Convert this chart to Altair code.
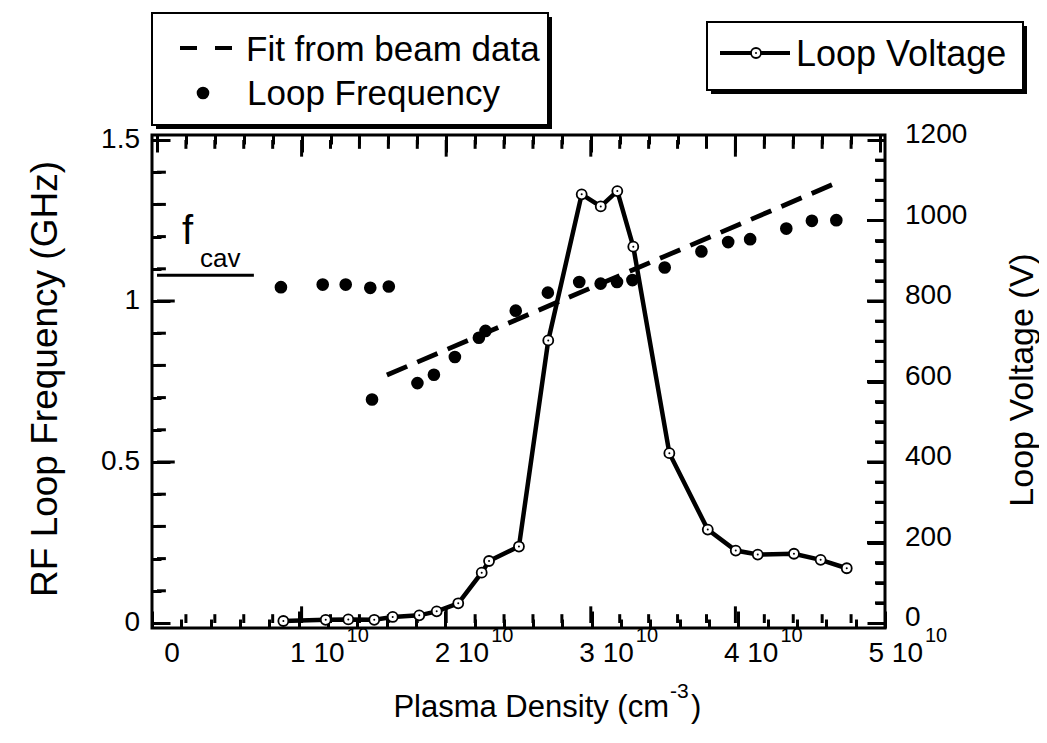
import altair as alt
import pandas as pd

# ---------------- data ----------------
# Loop frequency (GHz, left axis) vs plasma density (cm^-3)
freq_density = [0.857e10, 1.146e10, 1.305e10, 1.475e10, 1.603e10,
                1.487e10, 1.801e10, 1.915e10, 2.060e10, 2.226e10, 2.272e10,
                2.481e10, 2.703e10, 2.920e10, 3.068e10, 3.181e10, 3.288e10,
                3.511e10, 3.765e10, 3.950e10, 4.102e10, 4.352e10, 4.529e10,
                4.698e10]
freq_ghz = [1.043, 1.051, 1.051, 1.041, 1.045,
            0.694, 0.745, 0.771, 0.826, 0.886, 0.907,
            0.970, 1.026, 1.059, 1.054, 1.059, 1.065,
            1.104, 1.154, 1.183, 1.192, 1.225, 1.249,
            1.251]

# Fit from beam data (dashed line)
fit_density = [1.59e10, 4.70e10]
fit_ghz = [0.770, 1.367]

# f_cav marker line
fcav_density = [0.0, 0.67e10]
fcav_ghz = [1.08, 1.08]

# Loop voltage (V, right axis)
volt_density = [0.896e10, 1.185e10, 1.339e10, 1.516e10, 1.642e10, 1.823e10,
                1.942e10, 2.089e10, 2.249e10, 2.299e10, 2.503e10, 2.703e10,
                2.931e10, 3.061e10, 3.174e10, 3.283e10, 3.529e10, 3.791e10,
                3.982e10, 4.132e10, 4.379e10, 4.561e10, 4.739e10]
volt_v = [5, 8, 9, 8, 15, 19,
          29, 49, 125, 154, 190, 702,
          1065, 1035, 1073, 935, 422, 232,
          180, 170, 172, 157, 136]

# axis ticks / labels
x_major = [0.0, 1e10, 2e10, 3e10, 4e10, 5e10]
x_base_labels = ["0", "1 10", "2 10", "3 10", "4 10", "5 10"]
x_sup_labels = ["", "10", "10", "10", "10", "10"]
x_minor = [k * 0.2e10 for k in range(1, 25) if k % 5 != 0]

left_major = [0.0, 0.5, 1.0, 1.5]
left_labels = ["0", "0.5", "1", "1.5"]
left_minor = [0.1, 0.2, 0.3, 0.4, 0.6, 0.7, 0.8, 0.9, 1.1, 1.2, 1.3, 1.4]

right_major = [0, 200, 400, 600, 800, 1000, 1200]
right_labels = ["0", "200", "400", "600", "800", "1000", "1200"]
right_minor = [v for v in range(50, 1200, 50) if v % 200 != 0]

# ---------------- layout constants ----------------
W, H = 733, 493
X_MAX, YL_MAX, YR_MAX = 5e10, 1.5, 1200
FONT = "Liberation Sans"
TICK_FS = 28
MAJ_LEN, MIN_LEN = 17, 9
PX_X = X_MAX / W
PX_L = YL_MAX / H
PX_R = YR_MAX / H


def tick_axis(orient, values, major_test, major_len, minor_len, offset):
    """Axis used only to draw inward ticks (moved onto the opposite frame edge)."""
    return alt.Axis(orient=orient, values=values, offset=offset,
                    labels=False, domain=False, grid=False, title=None,
                    ticks=True, tickColor="black", tickWidth=3,
                    tickSize={"condition": {"test": major_test, "value": major_len},
                              "value": minor_len})


xs = alt.Scale(domain=[0, X_MAX], nice=False, zero=False)
XMAJ_TEST = "abs(datum.value/1e10 - round(datum.value/1e10)) < 1e-6"
XL = alt.X("density:Q", scale=xs,
           axis=tick_axis("bottom", x_major + x_minor, XMAJ_TEST, MAJ_LEN, MIN_LEN, -H))
XR = alt.X("density:Q", scale=xs,
           axis=tick_axis("top", x_major + x_minor, XMAJ_TEST, MAJ_LEN, MIN_LEN, -H))

YL = alt.Y("ghz:Q", scale=alt.Scale(domain=[0, YL_MAX], nice=False, zero=False),
           axis=tick_axis("right", left_major + left_minor,
                          "abs(datum.value*2 - round(datum.value*2)) < 1e-6", 18, MIN_LEN, -W))
YR = alt.Y("volts:Q", scale=alt.Scale(domain=[0, YR_MAX], nice=False, zero=False),
           axis=tick_axis("left", right_major + right_minor,
                          "datum.value % 200 === 0", 18, 10, -W))

one = pd.DataFrame({"k": [0]})


def txt(text, x, y, size, align="left", baseline="alphabetic", angle=0):
    return alt.Chart(one).mark_text(text=text, align=align, baseline=baseline,
                                    fontSize=size, color="black", angle=angle).encode(
        x=alt.value(x), y=alt.value(y))


def lens(n_major, n_minor, major, minor):
    return [major] * n_major + [minor] * n_minor


# ---------------- tick tables (data space) ----------------
xt_vals = x_major[1:-1] + x_minor
xt_len = lens(len(x_major) - 2, len(x_minor), MAJ_LEN * PX_L, MIN_LEN * PX_L)
top_df = pd.DataFrame({"density": xt_vals, "ghz": [YL_MAX] * len(xt_vals),
                       "ghz2": [YL_MAX - v for v in xt_len]})
bot_df = pd.DataFrame({"density": xt_vals, "ghz": [0.0] * len(xt_vals), "ghz2": xt_len})

l_vals = left_major[1:-1] + left_minor
l_len = lens(len(left_major) - 2, len(left_minor), 18 * PX_X, MIN_LEN * PX_X)
lt_df = pd.DataFrame({"ghz": l_vals, "density": [0.0] * len(l_vals), "density2": l_len})

r_vals = right_major[1:-1] + right_minor
r_len = lens(len(right_major) - 2, len(right_minor), 18 * PX_X, 10 * PX_X)
rt_df = pd.DataFrame({"volts": r_vals, "density": [X_MAX - v for v in r_len],
                      "density2": [X_MAX] * len(r_vals)})

BAR = dict(color="black", opacity=1, size=3, stroke=None)

top_bars = alt.Chart(top_df).mark_bar(**BAR).encode(x=XL, y=YL, y2="ghz2")
bot_bars = alt.Chart(bot_df).mark_bar(**BAR).encode(x=XL, y=YL, y2="ghz2")
l_bars = alt.Chart(lt_df).mark_bar(orient="horizontal", **BAR).encode(
    y=YL, x=XL, x2="density2")
r_bars = alt.Chart(rt_df).mark_bar(orient="horizontal", **BAR).encode(
    y=YR, x=XR, x2="density2")

# ---------------- left-scale layers ----------------
freq_df = pd.DataFrame({"density": freq_density, "ghz": freq_ghz})
fit_df = pd.DataFrame({"density": fit_density, "ghz": fit_ghz})
fcav_df = pd.DataFrame({"density": fcav_density, "ghz": fcav_ghz})

fcav_line = alt.Chart(fcav_df).mark_line(color="black", strokeWidth=3).encode(x=XL, y=YL)
fit_line = alt.Chart(fit_df).mark_line(color="black", strokeWidth=4.8,
                                       strokeDash=[22, 11]).encode(x=XL, y=YL)
freq_pts = alt.Chart(freq_df).mark_circle(color="black", opacity=1, size=160).encode(x=XL, y=YL)

# left tick labels and title
ylab_df = pd.DataFrame({"ghz": left_major, "lab": left_labels})
y_left_lab = alt.Chart(ylab_df).mark_text(align="right", baseline="middle", fontSize=TICK_FS,
                                          color="black").encode(
    y=YL, x=alt.value(-12), text="lab:N")
y_left_title = txt("RF Loop Frequency (GHz)", -106, 244, 37, align="center",
                   baseline="middle", angle=270)

# x tick labels
xlab_df = pd.DataFrame({"density": x_major, "base": x_base_labels, "sup": x_sup_labels})
x_zero_lab = alt.Chart(xlab_df.iloc[:1]).mark_text(
    align="center", baseline="alphabetic", fontSize=TICK_FS, color="black", dx=15).encode(
    x=XL, y=alt.value(527), text="base:N")
x_base_lab = alt.Chart(xlab_df.iloc[1:]).mark_text(
    align="right", baseline="alphabetic", fontSize=TICK_FS, color="black", dx=43).encode(
    x=XL, y=alt.value(527), text="base:N")
x_sup_lab = alt.Chart(xlab_df.iloc[1:]).mark_text(
    align="left", baseline="alphabetic", fontSize=20, color="black", dx=45).encode(
    x=XL, y=alt.value(507), text="sup:N")

# x title with superscript
xt_main = txt("Plasma Density (cm", 517, 582, 31, align="right")
xt_sup = txt("-3", 518, 563, 21)
xt_close = txt(")", 539, 582, 31)

# f_cav annotation
fcav_f = txt("f", 30, 109, 40)
fcav_sub = txt("cav", 48, 132, 26)

# legend box 1 (frequency)
leg1_shadow = alt.Chart(one).mark_rect(fill="black").encode(
    x=alt.value(4), x2=alt.value(400), y=alt.value(-118), y2=alt.value(-6))
leg1_box = alt.Chart(one).mark_rect(fill="white", stroke="black", strokeWidth=2).encode(
    x=alt.value(0), x2=alt.value(396), y=alt.value(-122), y2=alt.value(-10))
leg1_dash = alt.Chart(one).mark_rule(color="black", strokeWidth=4, strokeDash=[17, 18]).encode(
    x=alt.value(28), x2=alt.value(80), y=alt.value(-87))
leg1_dot = alt.Chart(one).mark_circle(color="black", opacity=1, size=160).encode(
    x=alt.value(51), y=alt.value(-42))
leg1_t1 = txt("Fit from beam data", 94, -85, 35, baseline="middle")
leg1_t2 = txt("Loop Frequency", 95, -41, 35, baseline="middle")

# legend box 2 (voltage)
leg2_shadow = alt.Chart(one).mark_rect(fill="black").encode(
    x=alt.value(559), x2=alt.value(875), y=alt.value(-109), y2=alt.value(-41))
leg2_box = alt.Chart(one).mark_rect(fill="white", stroke="black", strokeWidth=2).encode(
    x=alt.value(555), x2=alt.value(871), y=alt.value(-113), y2=alt.value(-45))
leg2_line = alt.Chart(one).mark_rule(color="black", strokeWidth=4).encode(
    x=alt.value(568), x2=alt.value(638), y=alt.value(-82))
leg2_circ = alt.Chart(one).mark_point(shape="circle", filled=True, fill="white", stroke="black",
                                      strokeWidth=1.8, opacity=1, size=100).encode(
    x=alt.value(604), y=alt.value(-82))
leg2_cdot = alt.Chart(one).mark_circle(color="black", opacity=1, size=4).encode(
    x=alt.value(604), y=alt.value(-82))
leg2_t = txt("Loop Voltage", 644, -80, 36, baseline="middle")

left = alt.layer(
    top_bars, bot_bars, l_bars,
    fcav_line, fit_line, freq_pts,
    y_left_lab, y_left_title,
    x_zero_lab, x_base_lab, x_sup_lab, xt_main, xt_sup, xt_close,
    fcav_f, fcav_sub,
    leg1_shadow, leg1_box, leg1_dash, leg1_dot, leg1_t1, leg1_t2,
    leg2_shadow, leg2_box, leg2_line, leg2_circ, leg2_cdot, leg2_t,
)

# ---------------- right-scale layers ----------------
volt_df = pd.DataFrame({"density": volt_density, "volts": volt_v})
volt_line = alt.Chart(volt_df).mark_line(color="black", strokeWidth=4.5).encode(x=XR, y=YR)
volt_pts = alt.Chart(volt_df).mark_point(shape="circle", filled=True, fill="white",
                                         stroke="black", strokeWidth=1.8, opacity=1,
                                         size=100).encode(x=XR, y=YR)
volt_cdots = alt.Chart(volt_df).mark_circle(color="black", opacity=1, size=4).encode(x=XR, y=YR)

rlab_df = pd.DataFrame({"volts": right_major, "lab": right_labels})
y_right_lab = alt.Chart(rlab_df).mark_text(align="left", baseline="middle", fontSize=TICK_FS,
                                           color="black", dy=-5).encode(
    y=YR, x=alt.value(W + 20), text="lab:N")
y_right_title = txt("Loop Voltage (V)", W + 138, 245, 34, align="center",
                    baseline="middle", angle=270)

right = alt.layer(r_bars, volt_line, volt_pts, volt_cdots, y_right_lab, y_right_title)

chart = alt.layer(left, right).resolve_scale(x="independent", y="independent").properties(
    width=W, height=H,
    autosize=alt.AutoSizeParams(type="none"),
    padding={"left": 144, "top": 127, "right": 154, "bottom": 100},
).configure(font=FONT).configure_view(stroke="black", strokeWidth=3)

chart.save("out.html", embed_options={"renderer": "svg", "actions": False})
